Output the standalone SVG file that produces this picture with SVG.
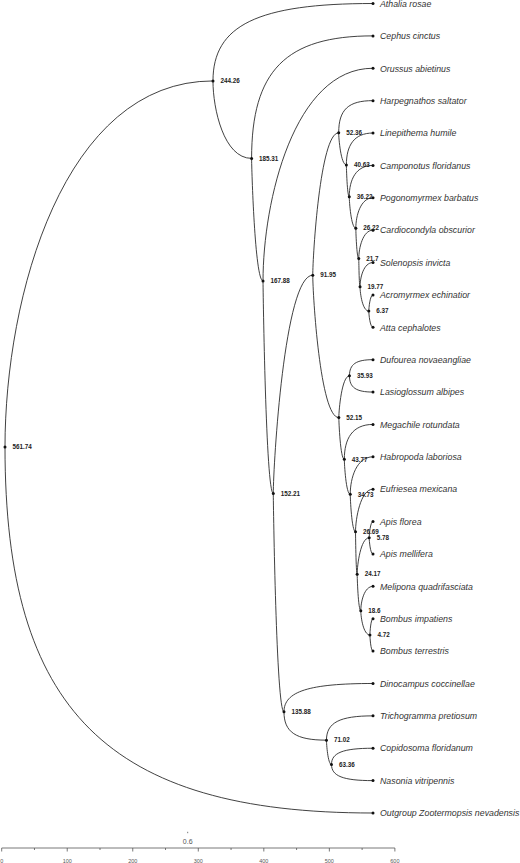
<svg xmlns="http://www.w3.org/2000/svg" width="520" height="863" viewBox="0 0 520 863">
<style>
.e{fill:none;stroke:#2b2b2b;stroke-width:0.9}
.d{fill:#111}
.lf{font-family:"Liberation Sans",Arial,sans-serif;font-style:italic;font-size:8.8px;fill:#333}
.nl{font-family:"Liberation Sans",Arial,sans-serif;font-weight:bold;font-size:6.3px;fill:#222}
.ax{stroke:#555;stroke-width:0.8;fill:none}
.at{font-family:"Liberation Sans",Arial,sans-serif;font-size:5.5px;fill:#555;text-anchor:middle}
.tt{font-family:"Liberation Sans",Arial,sans-serif;font-size:7px;fill:#555;text-anchor:middle}
</style>
<rect width="520" height="863" fill="#fff"/>
<g id="connectors">
<path class="e" d="M5,446.97 C5,297.22 63.23,80.94 212.98,80.94"/>
<path class="e" d="M5,446.97 C5,710.51 108.04,813 373,813"/>
<path class="e" d="M212.98,80.94 C212.98,25.18 257.79,3.5 373,3.5"/>
<path class="e" d="M212.98,80.94 C212.98,108.75 223.79,158.38 251.6,158.38"/>
<path class="e" d="M251.6,158.38 C251.6,70.97 285.59,35.88 373,35.88"/>
<path class="e" d="M251.6,158.38 C251.6,166.6 254.8,280.88 263.02,280.88"/>
<path class="e" d="M263.02,280.88 C263.02,201.69 293.81,68.26 373,68.26"/>
<path class="e" d="M263.02,280.88 C263.02,288.27 265.9,493.5 273.29,493.5"/>
<path class="e" d="M273.29,493.5 C273.29,465.08 284.34,275.19 312.76,275.19"/>
<path class="e" d="M273.29,493.5 C273.29,501.2 276.28,711.82 283.98,711.82"/>
<path class="e" d="M312.76,275.19 C312.76,256.51 320.02,132.77 338.7,132.77"/>
<path class="e" d="M312.76,275.19 C312.76,293.97 320.06,417.61 338.84,417.61"/>
<path class="e" d="M338.7,132.77 C338.7,109.64 348.3,100.64 373,100.64"/>
<path class="e" d="M338.7,132.77 C338.7,138.3 340.85,164.9 346.38,164.9"/>
<path class="e" d="M346.38,164.9 C346.38,145.73 353.83,133.02 373,133.02"/>
<path class="e" d="M346.38,164.9 C346.38,166.98 347.19,196.77 349.27,196.77"/>
<path class="e" d="M349.27,196.77 C349.27,179.68 355.91,165.4 373,165.4"/>
<path class="e" d="M349.27,196.77 C349.27,201.49 351.1,228.14 355.82,228.14"/>
<path class="e" d="M355.82,228.14 C355.82,215.77 360.63,197.78 373,197.78"/>
<path class="e" d="M355.82,228.14 C355.82,230.27 356.65,258.5 358.78,258.5"/>
<path class="e" d="M358.78,258.5 C358.78,248.26 362.76,230.16 373,230.16"/>
<path class="e" d="M358.78,258.5 C358.78,259.41 359.14,286.83 360.05,286.83"/>
<path class="e" d="M360.05,286.83 C360.05,277.51 363.68,262.54 373,262.54"/>
<path class="e" d="M360.05,286.83 C360.05,293.15 362.51,311.11 368.83,311.11"/>
<path class="e" d="M368.83,311.11 C368.83,308.11 370,294.92 373,294.92"/>
<path class="e" d="M368.83,311.11 C368.83,314.11 370,327.3 373,327.3"/>
<path class="e" d="M338.84,417.61 C338.84,409.96 341.81,375.87 349.46,375.87"/>
<path class="e" d="M338.84,417.61 C338.84,421.56 340.38,459.35 344.33,459.35"/>
<path class="e" d="M349.46,375.87 C349.46,364.21 356.05,359.68 373,359.68"/>
<path class="e" d="M349.46,375.87 C349.46,387.53 356.05,392.06 373,392.06"/>
<path class="e" d="M344.33,459.35 C344.33,438.71 352.36,424.44 373,424.44"/>
<path class="e" d="M344.33,459.35 C344.33,463.61 345.99,494.26 350.25,494.26"/>
<path class="e" d="M350.25,494.26 C350.25,477.88 356.62,456.82 373,456.82"/>
<path class="e" d="M350.25,494.26 C350.25,498.05 351.73,531.7 355.52,531.7"/>
<path class="e" d="M355.52,531.7 C355.52,519.11 360.41,489.2 373,489.2"/>
<path class="e" d="M355.52,531.7 C355.52,532.89 355.98,574.19 357.17,574.19"/>
<path class="e" d="M357.17,574.19 C357.17,565.52 360.54,537.77 369.21,537.77"/>
<path class="e" d="M357.17,574.19 C357.17,576.81 358.19,610.63 360.81,610.63"/>
<path class="e" d="M369.21,537.77 C369.21,535.04 370.27,521.58 373,521.58"/>
<path class="e" d="M369.21,537.77 C369.21,540.5 370.27,553.96 373,553.96"/>
<path class="e" d="M360.81,610.63 C360.81,601.85 364.22,586.34 373,586.34"/>
<path class="e" d="M360.81,610.63 C360.81,617.18 363.36,634.91 369.91,634.91"/>
<path class="e" d="M369.91,634.91 C369.91,632.69 370.78,618.72 373,618.72"/>
<path class="e" d="M369.91,634.91 C369.91,637.13 370.78,651.1 373,651.1"/>
<path class="e" d="M283.98,711.82 C283.98,691.42 308.91,683.48 373,683.48"/>
<path class="e" d="M283.98,711.82 C283.98,732.22 295.88,740.15 326.47,740.15"/>
<path class="e" d="M326.47,740.15 C326.47,722.66 339.5,715.86 373,715.86"/>
<path class="e" d="M326.47,740.15 C326.47,743.76 327.88,764.43 331.49,764.43"/>
<path class="e" d="M331.49,764.43 C331.49,752.77 343.11,748.24 373,748.24"/>
<path class="e" d="M331.49,764.43 C331.49,776.09 343.11,780.62 373,780.62"/>
</g>
<g id="leaves">
<g id="leaf-athalia"><circle class="d" cx="373" cy="3.5" r="1.5"/><text class="lf" x="380" y="6.7">Athalia rosae</text></g>
<g id="leaf-cephus"><circle class="d" cx="373" cy="35.88" r="1.5"/><text class="lf" x="380" y="39.1">Cephus cinctus</text></g>
<g id="leaf-orussus"><circle class="d" cx="373" cy="68.26" r="1.5"/><text class="lf" x="380" y="71.5">Orussus abietinus</text></g>
<g id="leaf-harpegnathos"><circle class="d" cx="373" cy="100.64" r="1.5"/><text class="lf" x="380" y="103.8">Harpegnathos saltator</text></g>
<g id="leaf-linepithema"><circle class="d" cx="373" cy="133.02" r="1.5"/><text class="lf" x="380" y="136.2">Linepithema humile</text></g>
<g id="leaf-camponotus"><circle class="d" cx="373" cy="165.4" r="1.5"/><text class="lf" x="380" y="168.6">Camponotus floridanus</text></g>
<g id="leaf-pogonomyrmex"><circle class="d" cx="373" cy="197.78" r="1.5"/><text class="lf" x="380" y="201">Pogonomyrmex barbatus</text></g>
<g id="leaf-cardiocondyla"><circle class="d" cx="373" cy="230.16" r="1.5"/><text class="lf" x="380" y="233.4">Cardiocondyla obscurior</text></g>
<g id="leaf-solenopsis"><circle class="d" cx="373" cy="262.54" r="1.5"/><text class="lf" x="380" y="265.7">Solenopsis invicta</text></g>
<g id="leaf-acromyrmex"><circle class="d" cx="373" cy="294.92" r="1.5"/><text class="lf" x="380" y="298.1">Acromyrmex echinatior</text></g>
<g id="leaf-atta"><circle class="d" cx="373" cy="327.3" r="1.5"/><text class="lf" x="380" y="330.5">Atta cephalotes</text></g>
<g id="leaf-dufourea"><circle class="d" cx="373" cy="359.68" r="1.5"/><text class="lf" x="380" y="362.9">Dufourea novaeangliae</text></g>
<g id="leaf-lasioglossum"><circle class="d" cx="373" cy="392.06" r="1.5"/><text class="lf" x="380" y="395.3">Lasioglossum albipes</text></g>
<g id="leaf-megachile"><circle class="d" cx="373" cy="424.44" r="1.5"/><text class="lf" x="380" y="427.6">Megachile rotundata</text></g>
<g id="leaf-habropoda"><circle class="d" cx="373" cy="456.82" r="1.5"/><text class="lf" x="380" y="460">Habropoda laboriosa</text></g>
<g id="leaf-eufriesea"><circle class="d" cx="373" cy="489.2" r="1.5"/><text class="lf" x="380" y="492.4">Eufriesea mexicana</text></g>
<g id="leaf-apisflorea"><circle class="d" cx="373" cy="521.58" r="1.5"/><text class="lf" x="380" y="524.8">Apis florea</text></g>
<g id="leaf-apismellifera"><circle class="d" cx="373" cy="553.96" r="1.5"/><text class="lf" x="380" y="557.2">Apis mellifera</text></g>
<g id="leaf-melipona"><circle class="d" cx="373" cy="586.34" r="1.5"/><text class="lf" x="380" y="589.5">Melipona quadrifasciata</text></g>
<g id="leaf-bombusimp"><circle class="d" cx="373" cy="618.72" r="1.5"/><text class="lf" x="380" y="621.9">Bombus impatiens</text></g>
<g id="leaf-bombusterr"><circle class="d" cx="373" cy="651.1" r="1.5"/><text class="lf" x="380" y="654.3">Bombus terrestris</text></g>
<g id="leaf-dinocampus"><circle class="d" cx="373" cy="683.48" r="1.5"/><text class="lf" x="380" y="686.7">Dinocampus coccinellae</text></g>
<g id="leaf-trichogramma"><circle class="d" cx="373" cy="715.86" r="1.5"/><text class="lf" x="380" y="719.1">Trichogramma pretiosum</text></g>
<g id="leaf-copidosoma"><circle class="d" cx="373" cy="748.24" r="1.5"/><text class="lf" x="380" y="751.4">Copidosoma floridanum</text></g>
<g id="leaf-nasonia"><circle class="d" cx="373" cy="780.62" r="1.5"/><text class="lf" x="380" y="783.8">Nasonia vitripennis</text></g>
<g id="leaf-outgroup"><circle class="d" cx="373" cy="813" r="1.5"/><text class="lf" x="380" y="816.2">Outgroup Zootermopsis nevadensis</text></g>
</g>
<g id="internal-nodes">
<g id="n561"><circle class="d" cx="5" cy="446.97" r="1.5"/><text class="nl" x="12.5" y="449.2">561.74</text></g>
<g id="n244"><circle class="d" cx="212.98" cy="80.94" r="1.5"/><text class="nl" x="220.5" y="83.1">244.26</text></g>
<g id="n185"><circle class="d" cx="251.6" cy="158.38" r="1.5"/><text class="nl" x="259.1" y="160.6">185.31</text></g>
<g id="n167"><circle class="d" cx="263.02" cy="280.88" r="1.5"/><text class="nl" x="270.5" y="283.1">167.88</text></g>
<g id="n152"><circle class="d" cx="273.29" cy="493.5" r="1.5"/><text class="nl" x="280.8" y="495.7">152.21</text></g>
<g id="n135"><circle class="d" cx="283.98" cy="711.82" r="1.5"/><text class="nl" x="291.5" y="714">135.88</text></g>
<g id="n91"><circle class="d" cx="312.76" cy="275.19" r="1.5"/><text class="nl" x="320.3" y="277.4">91.95</text></g>
<g id="n71"><circle class="d" cx="326.47" cy="740.15" r="1.5"/><text class="nl" x="334" y="742.4">71.02</text></g>
<g id="n63"><circle class="d" cx="331.49" cy="764.43" r="1.5"/><text class="nl" x="339" y="766.6">63.36</text></g>
<g id="n52a"><circle class="d" cx="338.7" cy="132.77" r="1.5"/><text class="nl" x="346.2" y="135">52.36</text></g>
<g id="n52b"><circle class="d" cx="338.84" cy="417.61" r="1.5"/><text class="nl" x="346.3" y="419.8">52.15</text></g>
<g id="n43"><circle class="d" cx="344.33" cy="459.35" r="1.5"/><text class="nl" x="351.8" y="461.6">43.77</text></g>
<g id="n40"><circle class="d" cx="346.38" cy="164.9" r="1.5"/><text class="nl" x="353.9" y="167.1">40.63</text></g>
<g id="n36"><circle class="d" cx="349.27" cy="196.77" r="1.5"/><text class="nl" x="356.8" y="199">36.22</text></g>
<g id="n35"><circle class="d" cx="349.46" cy="375.87" r="1.5"/><text class="nl" x="357" y="378.1">35.93</text></g>
<g id="n34"><circle class="d" cx="350.25" cy="494.26" r="1.5"/><text class="nl" x="357.8" y="496.5">34.73</text></g>
<g id="n26b"><circle class="d" cx="355.52" cy="531.7" r="1.5"/><text class="nl" x="363" y="533.9">26.69</text></g>
<g id="n26a"><circle class="d" cx="355.82" cy="228.14" r="1.5"/><text class="nl" x="363.3" y="230.3">26.22</text></g>
<g id="n24"><circle class="d" cx="357.17" cy="574.19" r="1.5"/><text class="nl" x="364.7" y="576.4">24.17</text></g>
<g id="n21"><circle class="d" cx="358.78" cy="258.5" r="1.5"/><text class="nl" x="366.3" y="260.7">21.7</text></g>
<g id="n19"><circle class="d" cx="360.05" cy="286.83" r="1.5"/><text class="nl" x="367.6" y="289">19.77</text></g>
<g id="n18"><circle class="d" cx="360.81" cy="610.63" r="1.5"/><text class="nl" x="368.3" y="612.8">18.6</text></g>
<g id="n6"><circle class="d" cx="368.83" cy="311.11" r="1.5"/><text class="nl" x="376.3" y="313.3">6.37</text></g>
<g id="n5"><circle class="d" cx="369.21" cy="537.77" r="1.5"/><text class="nl" x="376.7" y="540">5.78</text></g>
<g id="n4"><circle class="d" cx="369.91" cy="634.91" r="1.5"/><text class="nl" x="377.4" y="637.1">4.72</text></g>
</g>
<g id="axis">
<line class="ax" x1="1.7" y1="848" x2="394.9" y2="848"/>
<path class="ax" d="M1.7,848v3.5M34.47,848v2M67.23,848v3.5M100,848v2M132.76,848v3.5M165.53,848v2M198.29,848v3.5M231.06,848v2M263.82,848v3.5M296.59,848v2M329.35,848v3.5M362.12,848v2M394.88,848v3.5"/>
<text class="at" x="1.7" y="863">0</text>
<text class="at" x="67.23" y="863">100</text>
<text class="at" x="132.76" y="863">200</text>
<text class="at" x="198.29" y="863">300</text>
<text class="at" x="263.82" y="863">400</text>
<text class="at" x="329.35" y="863">500</text>
<text class="at" x="394.88" y="863">600</text>
<line class="ax" x1="187.7" y1="831.8" x2="187.7" y2="833.2" stroke-width="0.6"/>
<text class="tt" x="187.7" y="844.2">0.6</text>
</g>
</svg>
